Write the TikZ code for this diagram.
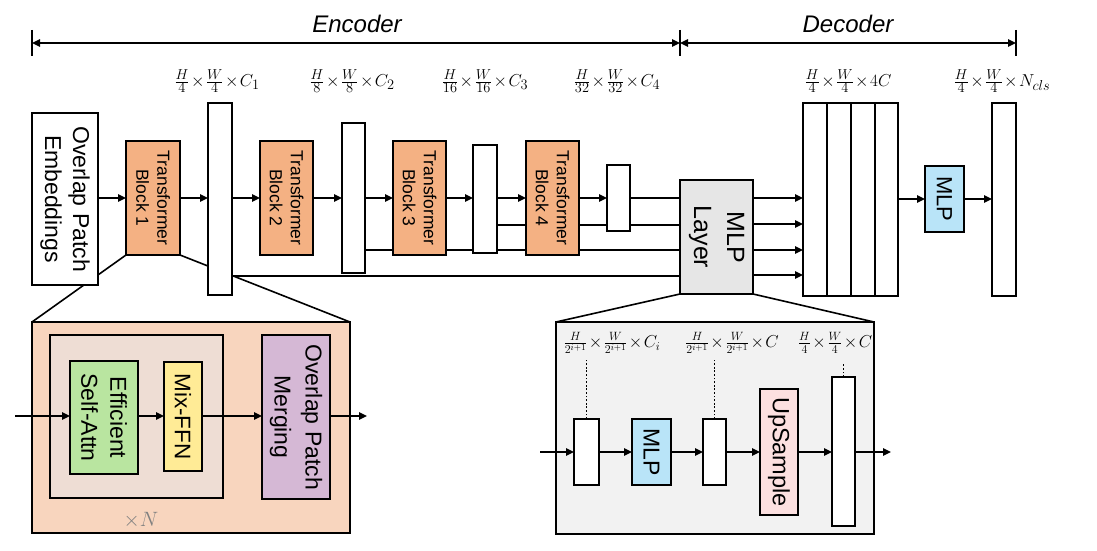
\documentclass[tikz,border=0pt]{standalone}
\usepackage{fontspec}
\setmainfont{Liberation Sans}
\usetikzlibrary{arrows.meta}
\definecolor{tbor}{HTML}{F4B183}
\definecolor{dpeach}{HTML}{F8D5BE}
\definecolor{dinner}{HTML}{EEDDD4}
\definecolor{dgreen}{HTML}{B9E5A0}
\definecolor{dyellow}{HTML}{FFEB96}
\definecolor{dpurple}{HTML}{D5B8D5}
\definecolor{dgray}{HTML}{E6E6E6}
\definecolor{dlgray}{HTML}{F2F2F2}
\definecolor{dblue}{HTML}{B9E4F8}
\definecolor{dpink}{HTML}{FCE0E0}
\newcommand{\tms}{\mkern1.5mu{\times}\mkern1.5mu}
\tikzset{
  bx/.style={draw=black, line width=1.6pt, inner sep=0pt, outer sep=0pt, fill=white},
  sz/.style 2 args={minimum width=#1pt, minimum height=#2pt, inner sep=0pt, outer sep=0pt},
  ln/.style={line width=1.6pt, draw=black},
  arr/.style={ln, -{Triangle[length=8pt,width=7.5pt]}},
  dimarr/.style={ln, {Triangle[length=8pt,width=7.5pt]}-{Triangle[length=8pt,width=7.5pt]}},
  rt/.style={rotate=-90, align=center, inner sep=0pt},
  dots/.style={line width=1.6pt, dash pattern=on 1.8pt off 1.8pt},
}
\begin{document}
\begin{tikzpicture}[x=1pt,y=-1pt]
\useasboundingbox (0,0) rectangle (1097,551);

% ---- coordinates ----
\coordinate (encL) at (32,43);
\coordinate (encR) at (680,43);
\coordinate (decR) at (1016,43);
\coordinate (in1) at (15,416);
\coordinate (out1) at (367,416);
\coordinate (in2) at (540,452);
\coordinate (out2) at (891,452);

% ---- detail boxes (background) ----
\node[bx, fill=dpeach, sz={318}{211}] (D1) at (191,427.5) {};
\node[bx, fill=dlgray, sz={318}{212}] (D2) at (715,428) {};

% ---- invisible placeholders for zoom lines ----
\path node[sz={54}{114}] (tb1) at (153,198) {};
\path node[sz={73}{114}] (mlpl) at (716.5,237) {};

% zoom lines
\draw[ln] (tb1.south west) -- (D1.north west);
\draw[ln] (tb1.south east) -- (D1.north east);
\draw[ln] (mlpl.south west) -- (D2.north west);
\draw[ln] (mlpl.south east) -- (D2.north east);

% ---- feature bar placeholders ----
\path node[sz={24}{192}] (f1) at (220,199) {};
\path node[sz={23}{150}] (f2) at (353.5,198) {};
\path node[sz={24}{108}] (f3) at (485,199) {};
\path node[sz={23}{66}] (f4) at (618.5,198) {};

% skip lines (behind boxes)
\draw[ln] (f4.east) -- (f4.east -| mlpl.west);
\draw[ln] ([yshift=-26pt]f3.east) -- ([yshift=-26pt]f3.east -| mlpl.west);
\draw[ln] ([yshift=-52pt]f2.east) -- ([yshift=-52pt]f2.east -| mlpl.west);
\draw[ln] ([yshift=-77pt]f1.east) -- ([yshift=-77pt]f1.east -| mlpl.west);

% ---- main row boxes ----
\node[bx, sz={66}{172}] (emb) at (65,199) {};
\node[rt, font=\fontsize{23}{28}\selectfont] (embt) at (emb) {Overlap Patch\\Embeddings};

\node[bx, fill=tbor, sz={54}{114}] (tb1b) at (tb1) {};
\node[rt, font=\fontsize{17.5}{21}\selectfont] (tb1t) at (tb1) {Transformer\\Block 1};
\node[bx, sz={24}{192}] (f1b) at (f1) {};

\node[bx, fill=tbor, sz={53}{114}] (tb2) at (286.5,198) {};
\node[rt, font=\fontsize{17.5}{21}\selectfont] (tb2t) at (tb2) {Transformer\\Block 2};
\node[bx, sz={23}{150}] (f2b) at (f2) {};

\node[bx, fill=tbor, sz={53}{114}] (tb3) at (419.5,198) {};
\node[rt, font=\fontsize{17.5}{21}\selectfont] (tb3t) at (tb3) {Transformer\\Block 3};
\node[bx, sz={24}{108}] (f3b) at (f3) {};

\node[bx, fill=tbor, sz={53}{114}] (tb4) at (552.5,198) {};
\node[rt, font=\fontsize{17.5}{21}\selectfont] (tb4t) at (tb4) {Transformer\\Block 4};
\node[bx, sz={23}{66}] (f4b) at (f4) {};

\node[bx, fill=dgray, sz={73}{114}] (mlplb) at (mlpl) {};
\node[rt, font=\fontsize{25}{33}\selectfont] (mlplt) at (mlpl) {MLP\\Layer};

\node[bx, sz={24}{193}] (d1) at (815,199.5) {};
\node[bx, sz={24}{193}] (d2) at (839,199.5) {};
\node[bx, sz={24}{193}] (d3) at (863,199.5) {};
\node[bx, sz={23}{193}] (d4) at (886.5,199.5) {};

\node[bx, fill=dblue, sz={39}{66}] (mlpd) at (944.5,199) {};
\node[rt, font=\fontsize{22}{26}\selectfont] (mlpdt) at (mlpd) {MLP};
\node[bx, sz={24}{193}] (outb) at (1004,199.5) {};

% main arrows
\draw[arr] (emb.east |- tb1b.west) -- (tb1b.west);
\draw[arr] (tb1b.east) -- (tb1b.east -| f1b.west);
\draw[arr] (tb1b.east -| f1b.east) -- (tb2.west);
\draw[arr] (tb2.east) -- (tb2.east -| f2b.west);
\draw[arr] (tb2.east -| f2b.east) -- (tb3.west);
\draw[arr] (tb3.east) -- (tb3.east -| f3b.west);
\draw[arr] (tb3.east -| f3b.east) -- (tb4.west);
\draw[arr] (tb4.east) -- (f4b.west);
\foreach \s in {0,26,52,77}{
  \draw[arr] ([yshift=-\s pt]mlplb.east |- f4b.east) -- ([yshift=-\s pt]d1.west |- f4b.east);
}
\draw[arr] (d4.east |- mlpd.west) -- (mlpd.west);
\draw[arr] (mlpd.east) -- (mlpd.east -| outb.west);

% encoder / decoder dimension arrows
\draw[dimarr] (encL) -- (encR);
\draw[dimarr] (encR) -- (decR);
\draw[ln] ([yshift=13pt]encL) -- ([yshift=-13pt]encL);
\draw[ln] ([yshift=13pt]encR) -- ([yshift=-13pt]encR);
\draw[ln] ([yshift=13pt]decR) -- ([yshift=-13pt]decR);
\node[font=\fontsize{24}{28}\selectfont\itshape] (enct) at (357,24) {Encoder};
\node[font=\fontsize{24}{28}\selectfont\itshape] (dect) at (848,24) {Decoder};

% dimension labels
\begin{scope}[every node/.style={font=\fontsize{19}{22}\selectfont, inner sep=0pt}]
\node (l1) at (217,81) {$\frac{H}{4}\tms\frac{W}{4}\tms C_1$};
\node (l2) at (352,81) {$\frac{H}{8}\tms\frac{W}{8}\tms C_2$};
\node (l3) at (485,81) {$\frac{H}{16}\tms\frac{W}{16}\tms C_3$};
\node (l4) at (617,81) {$\frac{H}{32}\tms\frac{W}{32}\tms C_4$};
\node (l5) at (848,81) {$\frac{H}{4}\tms\frac{W}{4}\tms 4C$};
\node (l6) at (1002,81) {$\frac{H}{4}\tms\frac{W}{4}\tms N_{cls}$};
\end{scope}

% ---- detail 1 ----
\node[bx, fill=dinner, sz={173}{163}] (inner) at (136.5,416.5) {};
\node[bx, fill=dgreen, sz={68}{113}] (esa) at (104,417.5) {};
\node[rt, font=\fontsize{23}{29}\selectfont] (esat) at (esa) {Efficient\\Self-Attn};
\node[bx, fill=dyellow, sz={38}{109}] (ffn) at (183,416.5) {};
\node[rt, font=\fontsize{22.5}{27}\selectfont] (ffnt) at (ffn) {Mix-FFN};
\node[bx, fill=dpurple, sz={68}{164}] (opm) at (296,417) {};
\node[rt, font=\fontsize{23}{31}\selectfont] (opmt) at (opm) {Overlap Patch\\Merging};
\node[font=\fontsize{21}{24}\selectfont, text=gray, inner sep=0pt] (xn) at (141,520) {$\times N$};

\draw[arr] (in1) -- (in1 -| esa.west);
\draw[arr] (in1 -| esa.east) -- (in1 -| ffn.west);
\draw[arr] (in1 -| ffn.east) -- (in1 -| opm.west);
\draw[arr] (in1 -| opm.east) -- (out1);

% ---- detail 2 ----
\node[bx, sz={25}{66}] (ba) at (586.5,452) {};
\node[bx, fill=dblue, sz={39}{66}] (mlpi) at (651.5,452) {};
\node[rt, font=\fontsize{23}{27}\selectfont] (mlpit) at (mlpi) {MLP};
\node[bx, sz={23}{66}] (bb) at (714.5,452) {};
\node[bx, fill=dpink, sz={38}{126}] (ups) at (779,452) {};
\node[rt, font=\fontsize{23.5}{27}\selectfont] (upst) at (ups) {UpSample};
\node[bx, sz={23}{149}] (bc) at (843.5,451.5) {};

\draw[arr] (in2) -- (ba.west);
\draw[arr] (ba.east) -- (mlpi.west);
\draw[arr] (mlpi.east) -- (bb.west);
\draw[arr] (bb.east) -- (ups.west);
\draw[arr] (ups.east) -- (ups.east -| bc.west);
\draw[arr] (ups.east -| bc.east) -- (out2);

\begin{scope}[every node/.style={font=\fontsize{17.5}{20}\selectfont, inner sep=0pt}]
\node (m1) at (612,343) {$\frac{H}{2^{i+1}}\tms\frac{W}{2^{i+1}}\tms C_i$};
\node (m2) at (732,343) {$\frac{H}{2^{i+1}}\tms\frac{W}{2^{i+1}}\tms C$};
\node (m3) at (835,343) {$\frac{H}{4}\tms\frac{W}{4}\tms C$};
\end{scope}
\draw[dots] (ba.north) -- ++(0,-59);
\draw[dots] (bb.north) -- ++(0,-59);
\draw[dots] (bc.north) -- ++(0,-14);

\end{tikzpicture}
\end{document}
